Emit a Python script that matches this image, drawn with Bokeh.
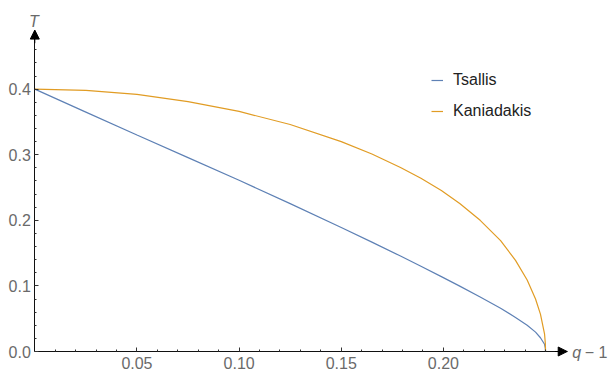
from bokeh.plotting import figure
from bokeh.models import (Range1d, FixedTicker, PrintfTickFormatter, Arrow, NormalHead,
                          Label, Legend, LegendItem)
from bokeh.embed import file_html
from bokeh.resources import INLINE

# ---- data ----
q_tsallis = [0.0, 0.025, 0.05, 0.075, 0.1, 0.125, 0.15, 0.165, 0.179, 0.189, 0.199, 0.208,
             0.218, 0.228, 0.2353, 0.241, 0.2451, 0.2475, 0.2495, 0.2499, 0.25]
T_tsallis = [0.400, 0.365, 0.330, 0.2955, 0.261, 0.2255, 0.189, 0.1667, 0.1455, 0.130, 0.1142,
             0.0997, 0.0831, 0.066, 0.052, 0.040, 0.0295, 0.021, 0.011, 0.005, 0.0]

q_kaniadakis = [0.0, 0.025, 0.05, 0.075, 0.1, 0.125, 0.15, 0.165, 0.179, 0.189, 0.199,
                0.208, 0.218, 0.228, 0.2353, 0.241, 0.2451, 0.2475, 0.2495, 0.2499, 0.25]
T_kaniadakis = [0.400, 0.398, 0.392, 0.381, 0.366, 0.346, 0.320, 0.301, 0.2805, 0.264, 0.2455,
                0.2255, 0.200, 0.169, 0.139, 0.109, 0.080, 0.057, 0.027, 0.012, 0.0]

series_names = ["Tsallis", "Kaniadakis"]

x_ticks = [0.05, 0.10, 0.15, 0.20]
x_tick_labels = ["0.05", "0.10", "0.15", "0.20"]
x_minor = [0.01, 0.02, 0.03, 0.04, 0.06, 0.07, 0.08, 0.09, 0.11, 0.12, 0.13, 0.14,
           0.16, 0.17, 0.18, 0.19, 0.21, 0.22, 0.23, 0.24, 0.25]
y_ticks = [0.0, 0.1, 0.2, 0.3, 0.4]
y_tick_labels = ["0.0", "0.1", "0.2", "0.3", "0.4"]
y_minor = [0.02, 0.04, 0.06, 0.08, 0.12, 0.14, 0.16, 0.18, 0.22, 0.24, 0.26, 0.28,
           0.32, 0.34, 0.36, 0.38, 0.42, 0.44, 0.46, 0.48]

x_label = "q"
x_label_rest = "\u2212 1"
y_label = "T"

# axis extents (arrow tips)
x_max = 0.2606
y_max = 0.49

BLUE = "#5E81B5"
ORANGE = "#E19C24"
FONT = "Liberation Sans"
TICK_GRAY = "#6a6a6a"

p = figure(width=611, height=372, output_backend="svg", toolbar_location=None,
           x_range=Range1d(-0.01679, 0.28228), y_range=Range1d(-0.0320, 0.5351),
           min_border=0)
p.outline_line_color = None
p.xgrid.grid_line_color = None
p.ygrid.grid_line_color = None
p.background_fill_color = "white"
p.border_fill_color = "white"

r1 = p.line(q_tsallis, T_tsallis, line_color=BLUE, line_width=1.2)
r2 = p.line(q_kaniadakis, T_kaniadakis, line_color=ORANGE, line_width=1.2)

for ax in (p.xaxis[0], p.yaxis[0]):
    ax.fixed_location = 0
    ax.axis_line_color = "#111111"
    ax.axis_line_width = 1
    ax.major_tick_in = 4
    ax.major_tick_out = 0
    ax.minor_tick_in = 2
    ax.minor_tick_out = 0
    ax.major_tick_line_color = "#333333"
    ax.minor_tick_line_color = "#333333"
    ax.major_label_text_font = FONT
    ax.major_label_text_font_size = "16px"
    ax.major_label_text_color = TICK_GRAY

p.xaxis.bounds = (0, x_max)
p.yaxis.bounds = (0, y_max)
p.xaxis.ticker = FixedTicker(ticks=x_ticks, minor_ticks=x_minor)
p.xaxis.formatter = PrintfTickFormatter(format="%.2f")
p.xaxis.major_label_overrides = dict(zip(x_ticks, x_tick_labels))
p.xaxis.major_label_standoff = 5
p.yaxis.ticker = FixedTicker(ticks=y_ticks, minor_ticks=y_minor)
p.yaxis.formatter = PrintfTickFormatter(format="%.1f")
p.yaxis.major_label_overrides = dict(zip(y_ticks, y_tick_labels))
p.yaxis.major_label_standoff = 4

# axis arrows
p.add_layout(Arrow(end=NormalHead(size=9, fill_color="black", line_color="black", line_width=1),
                   x_start=x_max - 0.006, y_start=0, x_end=x_max, y_end=0,
                   line_color="black", line_width=1))
p.add_layout(Arrow(end=NormalHead(size=9, fill_color="black", line_color="black", line_width=1),
                   x_start=0, y_start=y_max - 0.02, x_end=0, y_end=y_max,
                   line_color="black", line_width=1))

# axis labels
p.add_layout(Label(x=0, y=y_max, text=y_label, x_offset=-1, y_offset=9,
                   text_align="center", text_baseline="alphabetic",
                   text_font=FONT, text_font_size="16px", text_font_style="italic",
                   text_color=TICK_GRAY))
p.add_layout(Label(x=x_max, y=0, text=x_label, x_offset=5, y_offset=-1,
                   text_align="left", text_baseline="middle",
                   text_font=FONT, text_font_size="16px", text_font_style="italic",
                   text_color=TICK_GRAY))
p.add_layout(Label(x=x_max, y=0, text=x_label_rest, x_offset=17.5, y_offset=-1,
                   text_align="left", text_baseline="middle",
                   text_font=FONT, text_font_size="16px",
                   text_color=TICK_GRAY))

legend = Legend(items=[LegendItem(label=series_names[0], renderers=[r1]),
                       LegendItem(label=series_names[1], renderers=[r2])],
                location=(431, 252), border_line_alpha=0, background_fill_alpha=0,
                padding=0, margin=0, spacing=13, glyph_width=12, glyph_height=18,
                label_height=18, label_standoff=10, label_text_font=FONT,
                label_text_font_size="16px", label_text_color="#222222")
p.add_layout(legend)

open("out.html", "w").write(file_html(p, INLINE))
